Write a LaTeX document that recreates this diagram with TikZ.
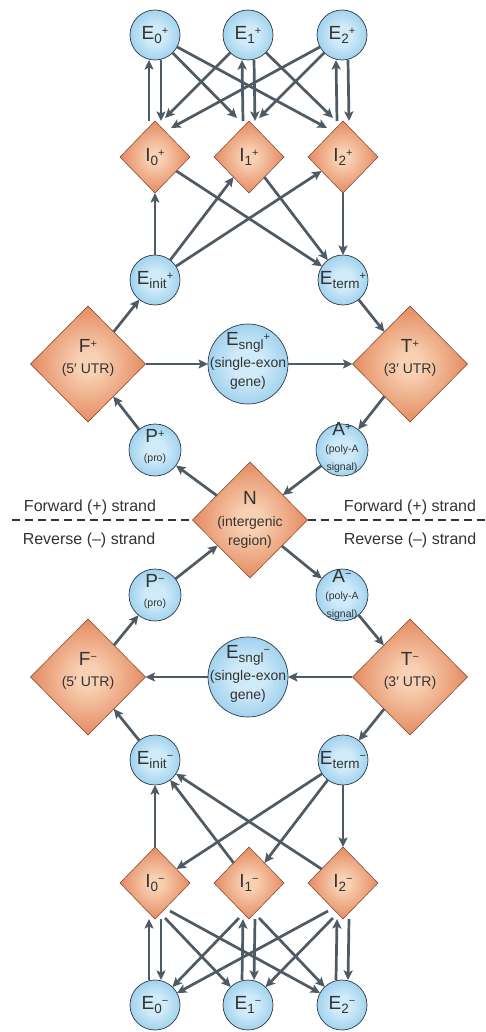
\documentclass[tikz,border=0pt]{standalone}
\usepackage{fontspec}
\setmainfont{Liberation Sans}
\usetikzlibrary{shapes.geometric, arrows.meta, calc}
\definecolor{bIn}{HTML}{CFEAF8}
\definecolor{bOut}{HTML}{55ABDF}
\definecolor{oIn}{HTML}{F8D0B2}
\definecolor{oOut}{HTML}{DA6534}
\definecolor{arrc}{HTML}{4E5A64}
\definecolor{txt}{HTML}{333333}
\definecolor{cedge}{HTML}{2E3A44}
\definecolor{dedge}{HTML}{7A4028}
\pgfdeclareradialshading{bsh}{\pgfpoint{0bp}{0bp}}{color(0bp)=(bIn); color(10bp)=(bIn); color(50bp)=(bOut)}
\pgfdeclareradialshading{osh}{\pgfpoint{0bp}{0bp}}{color(0bp)=(oIn); color(5bp)=(oIn); color(36bp)=(oOut); color(50bp)=(oOut)}
\newcommand\Sb[1]{\raisebox{-3.5pt}{\fontsize{13.5}{13.5}\selectfont #1}}
\newcommand\Sp[1]{\raisebox{5.5pt}{\fontsize{11}{11}\selectfont #1}}
\newcommand\Sm{\fontsize{14}{14}\selectfont}
\newcommand\Sx{\fontsize{10.5}{10.5}\selectfont}
\begin{document}
\begin{tikzpicture}[x=1pt,y=-1pt,
  ecirc/.style={circle, draw=cedge, line width=0.7pt, shade, shading=bsh, inner sep=0pt, outer sep=0pt, minimum size=50pt},
  odia/.style={diamond, aspect=1, draw=dedge, line width=0.5pt, shade, shading=osh, inner sep=0pt, outer sep=0pt},
  smdia/.style={odia, minimum width=70pt, minimum height=72pt},
  bgdia/.style={odia, minimum width=115pt, minimum height=116pt},
  lab/.style={text=txt, align=center, inner sep=0pt, font=\fontsize{19}{19}\selectfont},
  arr/.style={draw=arrc, line width=2.7pt, -{Stealth[length=9.5pt,width=9pt,inset=2pt]}},
  dashline/.style={draw=txt, line width=1.4pt, dash pattern=on 8pt off 5pt},
  strand/.style={text=txt, inner sep=0pt, font=\fontsize{16}{16}\selectfont}]
\useasboundingbox (0,0) rectangle (485,1032);
\fill[white] (0,0) rectangle (485,1032);

% ---------- forward strand ----------
\node[ecirc, label={[lab]center:{E\Sb{0}\Sp{+}}}] (E0p) at (155,35) {};
\node[ecirc, label={[lab]center:{E\Sb{1}\Sp{+}}}] (E1p) at (248,35) {};
\node[ecirc, label={[lab]center:{E\Sb{2}\Sp{+}}}] (E2p) at (342,35) {};
\node[smdia, label={[lab]center:{I\Sb{0}\Sp{+}}}] (I0p) at (155,157) {};
\node[smdia, label={[lab]center:{I\Sb{1}\Sp{+}}}] (I1p) at (249,157) {};
\node[smdia, label={[lab]center:{I\Sb{2}\Sp{+}}}] (I2p) at (343,157) {};
\node[ecirc, label={[lab]center:{E\Sb{init}\Sp{+}}}] (Einitp) at (155,280) {};
\node[ecirc, label={[lab]center:{E\Sb{term}\Sp{+}}}] (Etermp) at (343,280) {};
\node[bgdia, label={[lab,yshift=6pt]center:{F\Sp{+}\\[2pt]{\Sm (5′ UTR)}}}] (Fp) at (88,364) {};
\node[ecirc, minimum size=80pt, label={[lab,yshift=3pt]center:{E\Sb{sngl}\Sp{+}\\[3pt]{\Sm (single-exon}\\{\Sm gene)}}}] (Esnglp) at (248,364) {};
\node[bgdia, label={[lab,yshift=6pt]center:{T\Sp{+}\\[2pt]{\Sm (3′ UTR)}}}] (Tp) at (410,364) {};
\node[ecirc, minimum size=52pt, label={[lab,yshift=3pt]center:{P\Sp{+}\\{\Sx (pro)}}}] (Pp) at (155,450) {};
\node[ecirc, minimum size=52pt, label={[lab,yshift=2pt]center:{A\Sp{+}\\[-2pt]{\Sx (poly-A}\\[-1pt]{\Sx signal)}}}] (Ap) at (342,450) {};

% ---------- intergenic ----------
\node[bgdia, label={[lab]center:{N\\[3pt]{\Sm (intergenic}\\{\Sm region)}}}] (N) at (250,520) {};

% ---------- reverse strand ----------
\node[ecirc, minimum size=52pt, label={[lab,yshift=3pt]center:{P\Sp{−}\\{\Sx (pro)}}}] (Pm) at (155,595) {};
\node[ecirc, minimum size=52pt, label={[lab]center:{A\Sp{−}\\[-2pt]{\Sx (poly-A}\\[-1pt]{\Sx signal)}}}] (Am) at (342,595) {};
\node[bgdia, label={[lab,yshift=6pt]center:{F\Sp{−}\\[2pt]{\Sm (5′ UTR)}}}] (Fm) at (88,677) {};
\node[ecirc, minimum size=80pt, label={[lab,yshift=3pt]center:{E\Sb{sngl}\Sp{−}\\[3pt]{\Sm (single-exon}\\{\Sm gene)}}}] (Esnglm) at (248,677) {};
\node[bgdia, label={[lab,yshift=6pt]center:{T\Sp{−}\\[2pt]{\Sm (3′ UTR)}}}] (Tm) at (410,677) {};
\node[ecirc, label={[lab]center:{E\Sb{init}\Sp{−}}}] (Einitm) at (155,760) {};
\node[ecirc, label={[lab]center:{E\Sb{term}\Sp{−}}}] (Etermm) at (343,760) {};
\node[smdia, label={[lab]center:{I\Sb{0}\Sp{−}}}] (I0m) at (155,883) {};
\node[smdia, label={[lab]center:{I\Sb{1}\Sp{−}}}] (I1m) at (249,883) {};
\node[smdia, label={[lab]center:{I\Sb{2}\Sp{−}}}] (I2m) at (343,883) {};
\node[ecirc, label={[lab]center:{E\Sb{0}\Sp{−}}}] (E0m) at (155,1005) {};
\node[ecirc, label={[lab]center:{E\Sb{1}\Sp{−}}}] (E1m) at (248,1005) {};
\node[ecirc, label={[lab]center:{E\Sb{2}\Sp{−}}}] (E2m) at (342,1005) {};

% ---------- strand separator ----------
\coordinate (dl) at (12,520);
\coordinate (dr) at (485,520);
\draw[dashline] (dl) -- (N.west);
\draw[dashline] (N.east) -- (dr);
\node[strand] (fwl) at (90,507) {Forward (+) strand};
\node[strand] (rvl) at (89,540) {Reverse (–) strand};
\node[strand] (fwr) at (410,507) {Forward (+) strand};
\node[strand] (rvr) at (410,540) {Reverse (–) strand};

% ---------- forward arrows ----------
\foreach \e/\i in {E0p/I0p,E1p/I1p,E2p/I2p}{
  \draw[arr] ([xshift=-6pt]\i.north) -- ([xshift=-6pt]\e.south);
  \draw[arr] ([xshift=6pt]\e.south) -- ([xshift=6pt]\i.north);
}
\draw[arr] (E0p) -- ($(I1p.north)+(-12,-3)$);
\draw[arr] (E0p) -- ($(I2p.north)+(-16,7)$);
\draw[arr] (E1p) -- ($(I0p.north)+(10,-3)$);
\draw[arr] (E1p) -- ($(I2p.north)+(-10,-3)$);
\draw[arr] (E2p) -- ($(I0p.north)+(16,7)$);
\draw[arr] (E2p) -- ($(I1p.north)+(10,-3)$);
\draw[arr] (Einitp) -- (I0p);
\draw[arr] (Einitp) -- (I1p);
\draw[arr] (Einitp) -- (I2p);
\draw[arr] (I0p) -- (Etermp);
\draw[arr] (I1p) -- (Etermp);
\draw[arr] (I2p) -- (Etermp);
\draw[arr] (Fp) -- (Einitp);
\draw[arr] (Etermp) -- (Tp);
\draw[arr] (Fp) -- (Esnglp);
\draw[arr] (Esnglp) -- (Tp);
\draw[arr] (Tp) -- (Ap);
\draw[arr] (Ap) -- (N);
\draw[arr] (N) -- (Pp);
\draw[arr] (Pp) -- (Fp);

% ---------- reverse arrows ----------
\draw[arr] (N) -- (Am);
\draw[arr] (Am) -- (Tm);
\draw[arr] (Tm) -- (Esnglm);
\draw[arr] (Esnglm) -- (Fm);
\draw[arr] (Tm) -- (Etermm);
\draw[arr] (Einitm) -- (Fm);
\draw[arr] (Fm) -- (Pm);
\draw[arr] (Pm) -- (N);
\draw[arr] (Etermm) -- (I0m);
\draw[arr] (Etermm) -- (I1m);
\draw[arr] (Etermm) -- (I2m);
\draw[arr] (I0m) -- (Einitm);
\draw[arr] (I1m) -- (Einitm);
\draw[arr] (I2m) -- (Einitm);
\foreach \e/\i in {E0m/I0m,E1m/I1m,E2m/I2m}{
  \draw[arr] ([xshift=-6pt]\e.north) -- ([xshift=-6pt]\i.south);
  \draw[arr] ([xshift=6pt]\i.south) -- ([xshift=6pt]\e.north);
}
\draw[arr] ($(I0m.south)+(10,-1)$) -- (E1m);
\draw[arr] ($(I0m.south)+(15,-8)$) -- (E2m);
\draw[arr] ($(I1m.south)+(-10,-1)$) -- (E0m);
\draw[arr] ($(I1m.south)+(10,-1)$) -- (E2m);
\draw[arr] ($(I2m.south)+(-15,-8)$) -- (E0m);
\draw[arr] ($(I2m.south)+(-10,-1)$) -- (E1m);
\end{tikzpicture}
\end{document}
